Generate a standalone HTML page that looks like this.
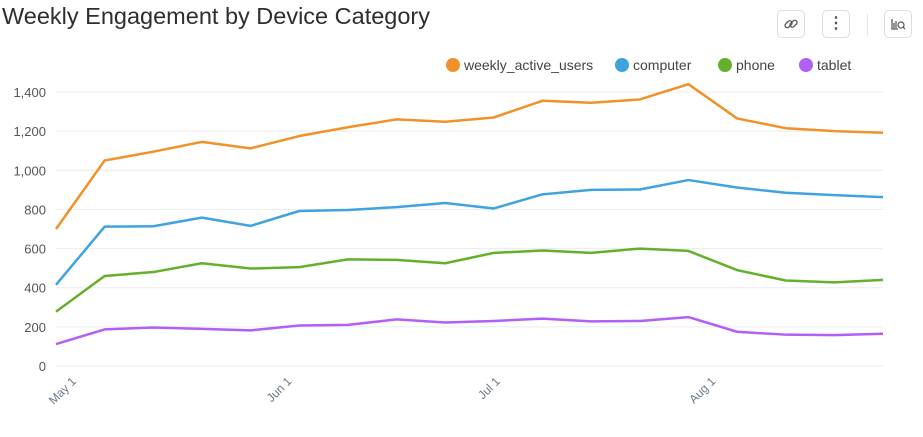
<!DOCTYPE html>
<html><head><meta charset="utf-8"><style>
body{margin:0;background:#fff;font-family:"Liberation Sans",sans-serif;}
#wrap{position:relative;width:923px;height:437px;overflow:hidden}
.title{position:absolute;left:2px;top:3px;font-size:23.5px;color:#2e2e2e}
.btn{position:absolute;top:10px;width:28px;height:28px;border:1px solid #ddd;border-radius:5px;box-sizing:border-box;color:#555;text-align:center;line-height:26px;font-size:16px}
</style></head><body><div id="wrap">
<div class="title">Weekly Engagement by Device Category</div>
<div class="btn" style="left:777px"><svg width="16" height="16" viewBox="0 0 16 16" style="margin-top:5px"><g fill="none" stroke="#555" stroke-width="1.3"><rect x="1.5" y="6" width="8" height="4.5" rx="2.2" transform="rotate(-45 5.5 8.2)"/><rect x="6.5" y="5.5" width="8" height="4.5" rx="2.2" transform="rotate(-45 10.5 7.7)"/></g></svg></div>
<div class="btn" style="left:822px;font-weight:bold">&#8942;</div>
<div style="position:absolute;left:867px;top:14px;width:1px;height:22px;background:#e4e4e4"></div>
<div class="btn" style="left:884px"><svg width="16" height="16" viewBox="0 0 16 16" style="margin-top:5px"><g fill="none" stroke="#555" stroke-width="1.2"><path d="M2 3v10h6M4 7v5M6 5v7"/><circle cx="11" cy="9" r="3"/><path d="M13 11l2 2"/></g></svg></div>
<svg id="chart" width="923" height="437" style="position:absolute;left:0;top:0"></svg>
</div>
<script>
const series = ["weekly_active_users","computer","phone","tablet"];
const colors = ["#f0922a","#3fa3e0","#64b02c","#b35ef5"];
const wau = [700,1050,1095,1145,1112,1175,1220,1260,1248,1270,1355,1345,1362,1440,1265,1215,1200,1192];
const computer = [415,712,714,758,716,792,797,812,833,805,877,900,902,950,912,885,873,863];
const phone = [278,460,480,525,498,505,545,542,525,578,590,578,600,588,490,437,427,440];
const tablet = [112,187,197,190,182,207,210,238,222,230,242,228,230,250,175,160,158,165];
const yTicks = [0,200,400,600,800,1000,1200,1400];
const xTickLabels = ["May 1","Jun 1","Jul 1","Aug 1"];
const xTickDays = [3,34,64,95];
const NS="http://www.w3.org/2000/svg";
const svg=document.getElementById('chart');
const x0=56,x1=883,y0=366,y1400=92;
const nDays=(wau.length-1)*7;
const X=d=>x0+(x1-x0)*d/nDays;
const Y=v=>y0-(y0-y1400)*v/1400;
function mk(t,a){const e=document.createElementNS(NS,t);for(const k in a)e.setAttribute(k,a[k]);svg.appendChild(e);return e;}
yTicks.forEach(v=>{
  const g=mk('line',{x1:x0,x2:x1,y1:Y(v),y2:Y(v),stroke:'#ececec','stroke-width':1});
  
  
  const t=mk('text',{x:46,y:Y(v)+5,'text-anchor':'end','font-size':13,fill:'#555'});
  t.textContent=v.toLocaleString('en-US');
  
  
});
xTickLabels.forEach((l,i)=>{
  const x=X(xTickDays[i]);
  const t=mk('text',{x:x,y:382,'text-anchor':'end','font-size':12,fill:'#6a7a8c',transform:`rotate(-45 ${x} 382)`});
  t.textContent=l;
  
  
});
[wau,computer,phone,tablet].forEach((d,si)=>{
  const p=mk('polyline',{points:d.map((v,i)=>X(i*7)+','+Y(v)).join(' '),fill:'none',stroke:colors[si],'stroke-width':2.5,'stroke-linejoin':'round'});
  
  
});
const lx=[453,622,725,806];
series.forEach((s,i)=>{
  const c=mk('circle',{cx:lx[i],cy:65,r:7,fill:colors[i]});
  
  
  const t=mk('text',{x:lx[i]+11,y:70,'font-size':14,fill:'#444'});
  t.textContent=s;
  
  
});
</script></body></html>
